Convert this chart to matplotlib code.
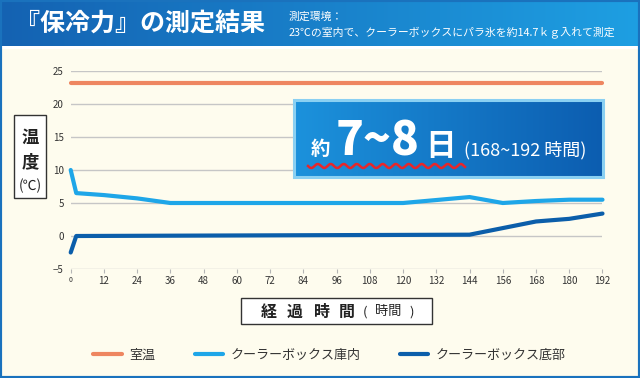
import matplotlib
matplotlib.use("Agg")
import matplotlib.pyplot as plt
import numpy as np
from matplotlib.colors import LinearSegmentedColormap
from matplotlib.patches import Rectangle

plt.rcParams['font.family'] = ['Noto Sans CJK JP', 'DejaVu Sans']

# data
room_hours = [0, 192]
room_temp = [23.2, 23.2]
inside_hours = [0, 2, 12, 24, 36, 120, 144, 156, 168, 180, 192]
inside_temp = [10.0, 6.5, 6.2, 5.7, 5.0, 5.0, 5.9, 5.0, 5.3, 5.5, 5.5]
bottom_hours = [0, 2, 144, 156, 168, 180, 192]
bottom_temp = [-2.5, 0.0, 0.2, 1.2, 2.2, 2.6, 3.4]
series_names = ['室温', 'クーラーボックス庫内', 'クーラーボックス底部']
series_colors = ['#ee8660', '#1ea6e8', '#0b5eaa']
xticks = list(range(0, 193, 12))
yticks = [-5, 0, 5, 10, 15, 20, 25]

W, H = 640, 378
BG = '#fefcee'


def rect(x0, y0, x1, y1):
    # pixel box -> figure fraction [left, bottom, width, height]
    return [x0 / W, 1 - y1 / H, (x1 - x0) / W, (y1 - y0) / H]


fig = plt.figure(figsize=(W / 100, H / 100), dpi=100)
fig.patch.set_facecolor(BG)

# main plot
ax = fig.add_axes(rect(70.7, 71, 602.5, 269))
ax.set_facecolor('none')
ax.set_xlim(0, 192)
ax.set_ylim(-5, 25)
for s in ax.spines.values():
    s.set_visible(False)
ax.set_axisbelow(True)
ax.set_yticks(yticks)
ax.set_xticks(xticks)
ax.yaxis.grid(True, color='#c6c6c6', lw=1)
ax.tick_params(axis='y', length=0, pad=5, labelsize=7, labelcolor='#333333')
ax.tick_params(axis='x', length=3, width=0.8, color='#b5b5b5', pad=2,
               labelsize=7, labelcolor='#333333')
ax.get_xticklabels()[0].set_fontsize(5)

kw = dict(lw=3, solid_capstyle='round', solid_joinstyle='round', clip_on=False)
ax.plot(room_hours, room_temp, color=series_colors[0], label=series_names[0], **kw)
ax.plot(inside_hours, inside_temp, color=series_colors[1], label=series_names[1], **kw)
ax.plot(bottom_hours, bottom_temp, color=series_colors[2], label=series_names[2], **kw)

fig.legend(loc='center', bbox_to_anchor=(329.5 / W, 1 - 355 / H), ncol=3,
           frameon=False, fontsize=9.4, handlelength=2.15, handletextpad=0.6,
           columnspacing=3.0, labelcolor='#333333')

# decoration overlay in pixel coordinates
ov = fig.add_axes([0, 0, 1, 1])
ov.set_facecolor('none')
ov.axis('off')

head_cmap = LinearSegmentedColormap.from_list('h', ['#1462b2', '#1e9fe2'])
ov.imshow(np.linspace(0, 1, 256)[None, :], aspect='auto', cmap=head_cmap,
          extent=[0, W, 46, 0], zorder=1)
ov.add_patch(Rectangle((0, 46), W, 2.5, color='white', lw=0, zorder=1))
ov.text(15, 24, '『保冷力』の測定結果', color='white', fontsize=18,
        fontweight='bold', va='center', ha='left', zorder=3)
ov.text(289, 17, '測定環境：', color='white', fontsize=7.8, va='center', zorder=3)
ov.text(289, 33, '23℃の室内で、クーラーボックスにパラ氷を約14.7ｋｇ入れて測定',
        color='white', fontsize=7.8, va='center', zorder=3)

# callout box
box_cmap = LinearSegmentedColormap.from_list('b', ['#1c92dc', '#0c5db0'])
ov.imshow(np.linspace(0, 1, 256)[None, :], aspect='auto', cmap=box_cmap,
          extent=[294, 603, 177, 100], zorder=1)
ov.add_patch(Rectangle((294, 100), 309, 77, fill=False, edgecolor='#8ad0f2',
                       lw=2.2, zorder=2))
ov.text(311, 155, '約', color='white', fontsize=14, fontweight='bold', zorder=3)
ov.text(336, 155, '7~8', color='white', fontsize=33, fontweight='heavy', zorder=3)
ov.text(425, 155, '日', color='white', fontsize=22, fontweight='bold', zorder=3)
ov.text(464, 155, '(168~192 時間)', color='white', fontsize=13, zorder=3)
wx = np.linspace(308, 465, 400)
ov.plot(wx, 166 + 2 * np.sin((wx - 308) / 13 * 2 * np.pi), color='#e8262a',
        lw=1.8, zorder=3)

# y label box
ov.add_patch(Rectangle((14, 115), 32, 83, facecolor='white', edgecolor='#333333',
                       lw=1, zorder=2))
ov.text(30, 138, '温', fontsize=12.5, fontweight='bold', ha='center', va='center',
        color='#222222', zorder=3)
ov.text(30, 162, '度', fontsize=12.5, fontweight='bold', ha='center', va='center',
        color='#222222', zorder=3)
ov.text(30, 186, '(℃)', fontsize=10, ha='center', va='center', color='#222222',
        zorder=3)

# x label box
ov.add_patch(Rectangle((240.7, 298), 191, 26, facecolor='white', edgecolor='#333333',
                       lw=1, zorder=2))
for ch, cx in zip('経過時間', [269, 295, 322, 347]):
    ov.text(cx, 312, ch, fontsize=11.5, fontweight='bold', ha='center',
            va='center', color='#222222', zorder=3)
ov.text(365, 312, '(', fontsize=9.5, ha='center', va='center', color='#222222', zorder=3)
ov.text(388, 312, '時間', fontsize=9.5, ha='center', va='center', color='#222222', zorder=3)
ov.text(412, 312, ')', fontsize=9.5, ha='center', va='center', color='#222222', zorder=3)

ov.set_xlim(0, W)
ov.set_ylim(H, 0)

# outer frame
fig.add_artist(Rectangle((0, 0), 1, 1, transform=fig.transFigure, fill=False,
                         edgecolor='#1a72bd', lw=3))

fig.savefig('out.png', dpi=100, facecolor=BG)
